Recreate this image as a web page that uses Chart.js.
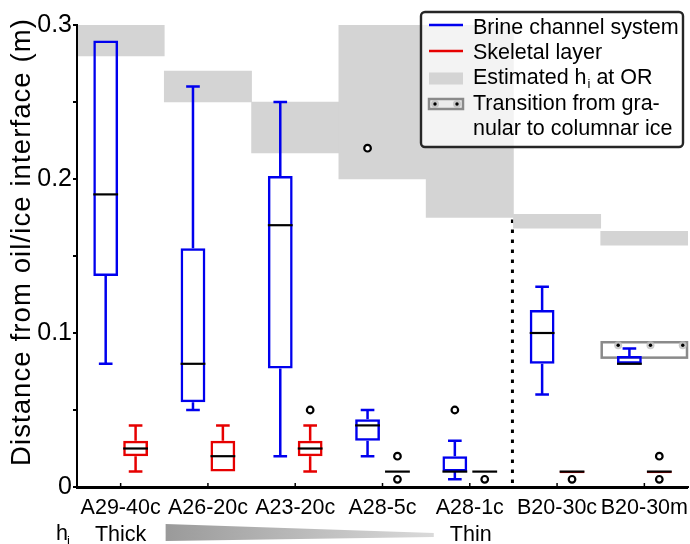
<!DOCTYPE html>
<html><head><meta charset="utf-8">
<script src="https://cdn.jsdelivr.net/npm/chart.js@4.4.0/dist/chart.umd.min.js"></script>
<style>html,body{margin:0;padding:0;background:#fff;overflow:hidden}canvas{display:block}</style>
</head><body>
<canvas id="c" width="690" height="544"></canvas>
<script>
// ---------- data ----------
const categories = ['A29-40c','A26-20c','A23-20c','A28-5c','A28-1c','B20-30c','B20-30m'];

// Brine channel system (blue boxes)
const brineMin    = [0.08, 0.05, 0.02, 0.02, 0.005, 0.06, 0.08];
const brineQ1     = [0.137, 0.055, 0.077, 0.03, 0.01, 0.08, 0.08];
const brineMedian = [0.19, 0.08, 0.17, 0.04, 0.01, 0.10, 0.08];
const brineQ3     = [0.29, 0.155, 0.202, 0.044, 0.02, 0.115, 0.085];
const brineMax    = [0.29, 0.26, 0.25, 0.05, 0.03, 0.13, 0.09];
const brineOutliers = [[], [], [], [0.22], [0.05], [], []];

// Skeletal layer (red boxes)
const skelMin    = [0.01, 0.01, 0.01, 0.01, 0.01, 0.009, 0.009];
const skelQ1     = [0.02, 0.01, 0.02, 0.01, 0.01, 0.009, 0.009];
const skelMedian = [0.025, 0.02, 0.025, 0.01, 0.01, 0.01, 0.01];
const skelQ3     = [0.03, 0.03, 0.03, 0.01, 0.01, 0.0105, 0.0105];
const skelMax    = [0.04, 0.04, 0.04, 0.01, 0.01, 0.0105, 0.0105];
const skelOutliers = [[], [], [0.05], [0.02, 0.005], [0.005], [0.005], [0.02, 0.005]];

// Estimated ice thickness h_i at OR (grey bands)
const hiLow  = [0.28, 0.25, 0.217, 0.20, 0.175, 0.168, 0.157];
const hiHigh = [0.30, 0.27, 0.25, 0.30, 0.30, 0.177, 0.166];

// Transition from granular to columnar ice (B20-30m)
const transitionIndex = 6;
const transitionLow = 0.084;
const transitionHigh = 0.094;
const transitionDepth = 0.092;

// Separator between A and B sites
const separatorAfterIndex = 4;
const separatorTop = 0.175;

const yMin = 0, yMax = 0.3, yStep = 0.05;
const yTitle = 'Distance from oil/ice interface (m)';
const legendLabels = ['Brine channel system', 'Skeletal layer', 'Estimated h', 'i', ' at OR', 'Transition from gra-', 'nular to columnar ice'];

// ---------- styles ----------
const BLUE = '#0000ee', RED = '#e60000', GREY = '#d4d4d4', FONT = '"Liberation Sans", Arial, sans-serif';
const LW = 2.5;

function drawBoxExtras(chart, dsIndex, mins, q1s, meds, q3s, maxs, outs, color) {
  const ctx = chart.ctx, ys = chart.scales.y;
  const meta = chart.getDatasetMeta(dsIndex);
  meta.data.forEach((bar, i) => {
    const x = bar.x, w = bar.width, cap = w * 0.55;
    ctx.save();
    ctx.strokeStyle = color; ctx.lineWidth = LW; ctx.lineCap = 'butt';
    const seg = (from, to) => {
      if (Math.abs(from - to) < 1e-9) return;
      const a = ys.getPixelForValue(from), b = ys.getPixelForValue(to);
      ctx.beginPath(); ctx.moveTo(x, a); ctx.lineTo(x, b);
      ctx.moveTo(x - cap / 2, b); ctx.lineTo(x + cap / 2, b); ctx.stroke();
    };
    seg(q3s[i], maxs[i]);
    seg(q1s[i], mins[i]);
    const my = ys.getPixelForValue(meds[i]);
    ctx.strokeStyle = '#000'; ctx.lineWidth = 2.2;
    ctx.beginPath(); ctx.moveTo(x - w / 2, my); ctx.lineTo(x + w / 2, my); ctx.stroke();
    outs[i].forEach(v => {
      const oy = ys.getPixelForValue(v);
      ctx.beginPath(); ctx.arc(x, oy, 3.3, 0, Math.PI * 2);
      ctx.fillStyle = '#fff'; ctx.fill();
      ctx.strokeStyle = '#000'; ctx.lineWidth = 2.2; ctx.stroke();
    });
    ctx.restore();
  });
}

function transDot(ctx, x, y) {
  ctx.beginPath(); ctx.arc(x, y, 4, 0, Math.PI * 2); ctx.fillStyle = 'rgba(190,190,190,0.8)'; ctx.fill();
  ctx.beginPath(); ctx.arc(x, y, 1.7, 0, Math.PI * 2); ctx.fillStyle = '#000'; ctx.fill();
}

const extras = {
  id: 'extras',
  beforeDatasetsDraw(chart) {
    const ctx = chart.ctx, xs = chart.scales.x, ys = chart.scales.y;
    const step = xs.getPixelForValue(1) - xs.getPixelForValue(0);
    // separator dotted line
    const sx = (xs.getPixelForValue(separatorAfterIndex) + xs.getPixelForValue(separatorAfterIndex + 1)) / 2 - 1;
    ctx.save();
    ctx.strokeStyle = '#000'; ctx.lineWidth = 3; ctx.setLineDash([3.5, 6.5]);
    ctx.beginPath(); ctx.moveTo(sx, ys.getPixelForValue(separatorTop) + 2); ctx.lineTo(sx, ys.getPixelForValue(0)); ctx.stroke();
    ctx.restore();
    // transition box
    const cx = xs.getPixelForValue(transitionIndex);
    const l = cx - step / 2, r = chart.chartArea.right;
    const t = ys.getPixelForValue(transitionHigh), b = ys.getPixelForValue(transitionLow);
    ctx.save();
    ctx.strokeStyle = '#8a8a8a'; ctx.lineWidth = 2.5;
    ctx.strokeRect(l + 1, t, r - l - 2, b - t);
    const dy = ys.getPixelForValue(transitionDepth);
    [-0.3, 0.07, 0.44].forEach(f => transDot(ctx, cx + f * step, dy));
    ctx.restore();
  },
  afterDatasetsDraw(chart) {
    drawBoxExtras(chart, 1, brineMin, brineQ1, brineMedian, brineQ3, brineMax, brineOutliers, BLUE);
    drawBoxExtras(chart, 2, skelMin, skelQ1, skelMedian, skelQ3, skelMax, skelOutliers, RED);
  },
  afterDraw(chart) {
    const ctx = chart.ctx, xs = chart.scales.x, ys = chart.scales.y, ca = chart.chartArea;
    ctx.save();
    // axis lines redrawn on top
    ctx.strokeStyle = '#000'; ctx.lineWidth = 2;
    ctx.beginPath(); ctx.moveTo(ca.left, ca.top); ctx.lineTo(ca.left, ca.bottom + 1); ctx.lineTo(ca.right, ca.bottom + 1); ctx.stroke();
    // inward x ticks
    ctx.lineWidth = 1.5;
    categories.forEach((c, i) => {
      const px = xs.getPixelForValue(i);
      ctx.beginPath(); ctx.moveTo(px, ca.bottom); ctx.lineTo(px, ca.bottom - 4); ctx.stroke();
    });
    // y title
    ctx.save();
    ctx.translate(22, 242); ctx.rotate(-Math.PI / 2);
    ctx.fillStyle = '#000'; ctx.font = '27.5px ' + FONT; ctx.textAlign = 'center'; ctx.textBaseline = 'middle';
    try { ctx.letterSpacing = '1.1px'; } catch (e) {}
    ctx.fillText(yTitle, 0, 0);
    try { ctx.letterSpacing = '0px'; } catch (e) {}
    ctx.restore();
    // h_i thick -> thin row
    const x0 = xs.getPixelForValue(0), x4 = xs.getPixelForValue(4);
    ctx.fillStyle = '#000'; ctx.textBaseline = 'alphabetic';
    ctx.font = '21.5px ' + FONT; ctx.textAlign = 'left';
    ctx.fillText('h', 56, 540);
    ctx.font = '13px ' + FONT; ctx.fillText('i', 67, 545);
    ctx.font = '21.5px ' + FONT; ctx.textAlign = 'center';
    ctx.fillText('Thick', x0, 541);
    ctx.fillText('Thin', x4 + 1, 541);
    const wl = x0 + 45, wr = x4 - 36;
    const g = ctx.createLinearGradient(wl, 0, wr, 0);
    g.addColorStop(0, '#9a9a9a'); g.addColorStop(1, '#dadada');
    ctx.fillStyle = g;
    ctx.beginPath(); ctx.moveTo(wl, 524); ctx.lineTo(wr, 533); ctx.lineTo(wr, 537); ctx.lineTo(wl, 541); ctx.closePath(); ctx.fill();
    // legend
    const L = 421, T = 12, R = 683, B = 147;
    ctx.beginPath(); ctx.roundRect(L, T, R - L, B - T, 4);
    ctx.fillStyle = 'rgba(255,255,255,0.72)'; ctx.fill();
    ctx.strokeStyle = '#262626'; ctx.lineWidth = 2.4; ctx.stroke();
    const sx0 = 429, sx1 = 463, tx = 473;
    const rows = [27, 52, 77.5, 103, 128];
    ctx.lineWidth = 2.4;
    ctx.strokeStyle = BLUE; ctx.beginPath(); ctx.moveTo(sx0, rows[0] - 2); ctx.lineTo(sx1, rows[0] - 2); ctx.stroke();
    ctx.strokeStyle = RED; ctx.beginPath(); ctx.moveTo(sx0, rows[1] - 1); ctx.lineTo(sx1, rows[1] - 1); ctx.stroke();
    ctx.fillStyle = GREY; ctx.fillRect(sx0, rows[2] - 5, sx1 - sx0, 12);
    ctx.fillStyle = '#ececec'; ctx.fillRect(sx0, rows[3] - 4, sx1 - sx0, 10);
    ctx.strokeStyle = '#8a8a8a'; ctx.lineWidth = 2.5; ctx.strokeRect(sx0, rows[3] - 4, sx1 - sx0, 10);
    transDot(ctx, sx0 + 6, rows[3] + 1); transDot(ctx, sx1 - 6, rows[3] + 1);
    ctx.fillStyle = '#000'; ctx.textAlign = 'left'; ctx.textBaseline = 'middle';
    ctx.font = '21.5px ' + FONT;
    ctx.fillText(legendLabels[0], tx, rows[0] + 1);
    ctx.fillText(legendLabels[1], tx, rows[1] + 1);
    ctx.fillText(legendLabels[2], tx, rows[2] + 1);
    let w = ctx.measureText(legendLabels[2]).width;
    ctx.font = '13px ' + FONT; ctx.fillText(legendLabels[3], tx + w + 1, rows[2] + 7);
    const wi = ctx.measureText(legendLabels[3]).width;
    ctx.font = '21.5px ' + FONT; ctx.fillText(legendLabels[4], tx + w + wi + 1, rows[2] + 1);
    ctx.fillText(legendLabels[5], tx, rows[3] + 1);
    ctx.fillText(legendLabels[6], tx, rows[4] + 1);
    ctx.restore();
  }
};

new Chart(document.getElementById('c'), {
  type: 'bar',
  data: {
    labels: categories,
    datasets: [
      { label: 'Estimated h_i at OR', data: categories.map((c, i) => [hiLow[i], hiHigh[i]]),
        backgroundColor: GREY, borderWidth: 0, grouped: false, barPercentage: 1, categoryPercentage: 1, order: 2 },
      { label: 'Brine channel system', data: categories.map((c, i) => [brineQ1[i], brineQ3[i]]),
        backgroundColor: 'rgba(255,255,255,0)', borderColor: BLUE, borderWidth: LW, borderSkipped: false,
        barPercentage: 0.83, categoryPercentage: 0.685, order: 1 },
      { label: 'Skeletal layer', data: categories.map((c, i) => [skelQ1[i], skelQ3[i]]),
        backgroundColor: 'rgba(255,255,255,0)', borderColor: RED, borderWidth: LW, borderSkipped: false,
        barPercentage: 0.83, categoryPercentage: 0.685, order: 1 }
    ]
  },
  options: {
    responsive: false, animation: false, devicePixelRatio: 1,
    layout: { padding: { top: 25, right: 2, left: 0, bottom: 0 } },
    plugins: { legend: { display: false }, tooltip: { enabled: false }, title: { display: false } },
    scales: {
      x: {
        offset: true,
        grid: { display: false, drawTicks: true, tickLength: 8 },
        border: { display: true, color: '#000', width: 2 },
        ticks: { color: '#000', padding: 0, maxRotation: 0, autoSkip: false, font: { family: FONT, size: 21.5 } },
        afterFit(s) { s.height = 57; }
      },
      y: {
        min: yMin, max: yMax,
        grid: { display: true, drawOnChartArea: false, drawTicks: true, tickLength: 4, color: '#000', lineWidth: 2 },
        border: { display: true, color: '#000', width: 2 },
        ticks: {
          stepSize: yStep, color: '#000', padding: 1, font: { family: FONT, size: 25 },
          callback(v) {
            const t = Math.round(v * 10);
            if (Math.abs(v * 10 - t) > 1e-6) return '';
            return t === 0 ? '0' : (t / 10).toFixed(1);
          }
        },
        afterFit(s) { s.width = 77; }
      }
    }
  },
  plugins: [extras]
});
</script>
</body></html>
